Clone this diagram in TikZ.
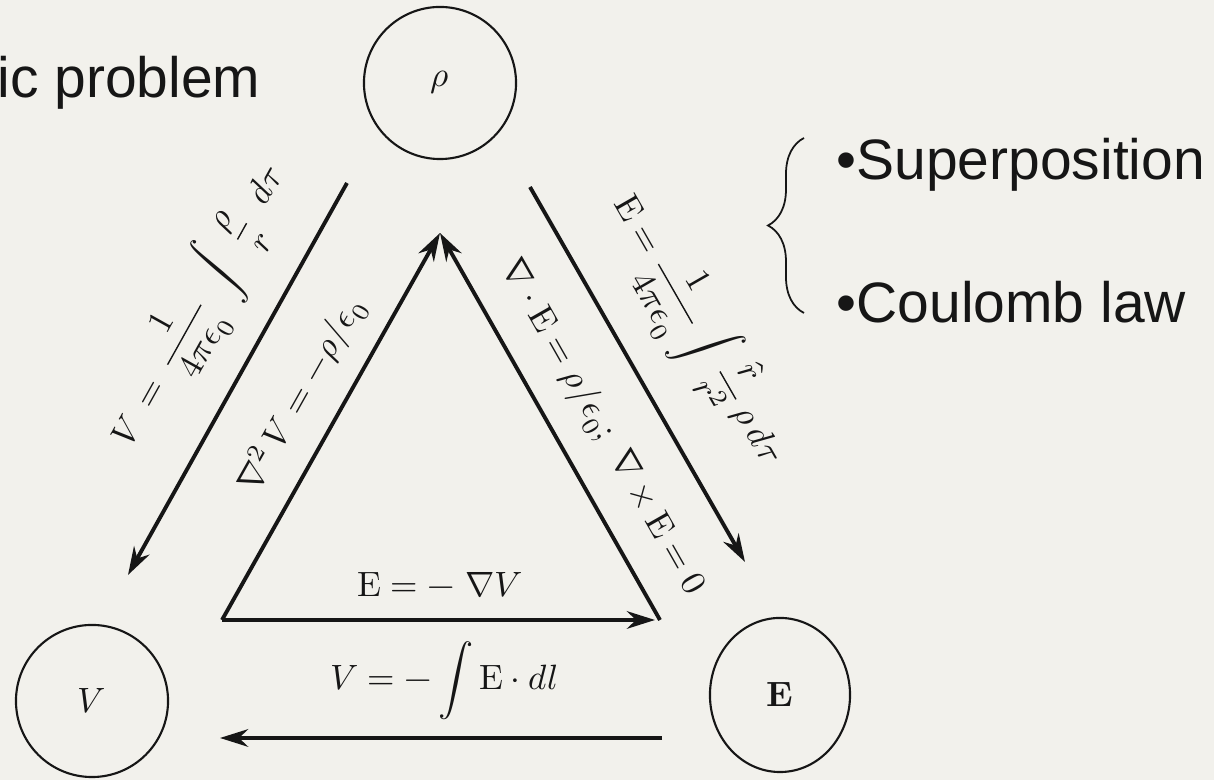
\documentclass[tikz,border=0pt]{standalone}
\usepackage{unicode-math}
\newfontfamily\slidefont{Liberation Sans}
\usetikzlibrary{arrows.meta, positioning, shapes.geometric,
                decorations.pathreplacing}
\definecolor{SlideBg}  {RGB}{242, 241, 236}
\definecolor{InkBlack} {RGB}{ 22,  22,  22}
\newcommand{\sep}{\mathscr{r}}
\tikzset{
  % Circle holding one quantity
  quantity/.style={
    circle, draw=InkBlack, line width=0.6pt,
    minimum size=1.52cm, inner sep=0pt,
    font=\normalsize, text=InkBlack
  },
  % Arrow between two quantities
  relation/.style={
    -{Stealth[length=8pt, width=5pt, inset=2.6pt]},
    line width=1.1pt, draw=InkBlack
  },
  % Formula written along an arrow
  lawlabel/.style={
    font=\normalsize, text=InkBlack, inner sep=0pt
  },
  % Slide text in sans serif
  slidetext/.style={
    font=\slidefont\fontsize{16.2}{19}\selectfont,
    text=InkBlack, inner sep=0pt, anchor=base west
  }
}

\begin{document}
\begin{tikzpicture}[x=0.01cm, y=-0.01cm]

  % ── BACKGROUND ─────────────────────────────────────────────────────────
  \useasboundingbox[fill=SlideBg] (0,0) rectangle (1214,780);

  % ── QUANTITIES ─────────────────────────────────────────────────────────
  \node[quantity] (rho) at (440,83)  {$\rho$};
  \node[quantity] (V)   at (92,701)  {$V$};
  \node[quantity, ellipse, minimum width=1.40cm, minimum height=1.54cm]
        (E) at (780,695) {$\symbf{E}$};

  % Arrow ends
  \coordinate (rhoL)    at (347,183);
  \coordinate (rhoR)    at (530,187);
  \coordinate (Vup)     at (128,575);
  \coordinate (Eup)     at (745,562);
  \coordinate (Eleft)   at (662,738);
  \coordinate (Vright)  at (220,738);
  \coordinate (apex)    at (440,233);
  \coordinate (cornerL) at (222,620);
  \coordinate (cornerR) at (660,620);
  \coordinate (tipR)    at (655,620);

  % ── OUTER ARROWS: rho -> V, rho -> E, E -> V ───────────────────────────
  \draw[relation] (rhoL) -- node[lawlabel, sloped, above=0.24cm, pos=0.4]
        {$\displaystyle V\,=\,\frac{1}{4\pi\epsilon_0}\;\int\;\frac{\rho}{\sep}\;\;d\tau$} (Vup);

  \draw[relation] (rhoR) -- node[lawlabel, sloped, above=0.29cm, pos=0.48]
        {$\displaystyle \symup{E}=\frac{1}{4\pi\epsilon_0}\int\frac{\hat{\sep}}{\sep^2}\,\rho\,d\tau$} (Eup);

  \draw[relation] (Eleft) -- node[lawlabel, above=0.16cm, pos=0.493]
        {$\displaystyle V=-\int\symup{E}\cdot dl$} (Vright);

  % ── INNER TRIANGLE: V -> rho, E -> rho, V -> E ─────────────────────────
  \draw[relation] (cornerL) -- node[lawlabel, sloped, above=0.2cm, pos=0.53]
        {$\nabla^2\,V=-\rho/\epsilon_0$} (apex);

  \draw[relation] (cornerR) -- node[lawlabel, sloped, above=0.25cm, pos=0.44]
        {$\nabla\cdot\symup{E}=\rho/\epsilon_0;\ \nabla\times\symup{E}=0$} (apex);

  \draw[relation] (cornerL) -- node[lawlabel, above=0.2cm, pos=0.503]
        {$\symup{E}=-\;\nabla V$} (tipR);

  % ── SLIDE TEXT ─────────────────────────────────────────────────────────
  \node[slidetext] (title) at (-3,98) {ic problem};

  \coordinate (braceTop) at (804,138);
  \coordinate (braceBot) at (804,313);
  \draw[InkBlack, line width=0.5pt,
        decorate, decoration={brace, amplitude=0.36cm}] (braceBot) -- (braceTop);

  \node[slidetext] (superpos) at (836,180) {•Superposition};
  \node[slidetext] (coulomb)  at (836,323) {•Coulomb law};

\end{tikzpicture}
\end{document}
